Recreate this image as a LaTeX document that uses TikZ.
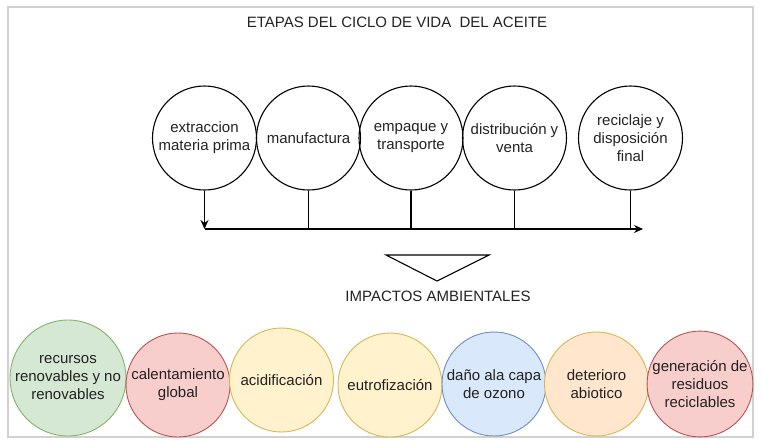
\documentclass[tikz,border=0pt]{standalone}
\usepackage{fontspec}
\setmainfont{Liberation Sans}
\usetikzlibrary{arrows.meta}
\definecolor{txt}{HTML}{222222}
\definecolor{gfill}{HTML}{D5E8D4}\definecolor{gline}{HTML}{82B366}
\definecolor{rfill}{HTML}{F8CECC}\definecolor{rline}{HTML}{B85450}
\definecolor{yfill}{HTML}{FFF2CC}\definecolor{yline}{HTML}{D6B656}
\definecolor{bfill}{HTML}{DAE8FC}\definecolor{bline}{HTML}{6C8EBF}
\definecolor{ofill}{HTML}{FFE6CC}\definecolor{oline}{HTML}{D6B656}
\tikzset{
  lbl/.style={font=\fontsize{15}{18}\selectfont, text=txt, align=center},
  stage/.style={lbl, circle, draw=black, line width=1.1pt, minimum size=104pt, inner sep=0pt},
  impact/.style={lbl, circle, line width=0.9pt, minimum size=104pt, inner sep=0pt},
  conn/.style={draw=black, line width=1.1pt},
  arr/.style={conn, -{Stealth[length=9pt,width=8pt]}}
}
\begin{document}
\begin{tikzpicture}[x=1pt,y=-1pt]
\useasboundingbox (0,0) rectangle (762,440);
\draw[draw=black!18, line width=1.2pt] (8,7) rectangle (753,437);
\node[lbl] (title) at (397,22) {ETAPAS DEL CICLO DE VIDA\ \ DEL ACEITE};

\node[stage] (t1) at (204.5,138) {extraccion\\materia prima};
\node[stage] (t2) at (308.5,138) {manufactura};
\node[stage] (t3) at (411,138) {empaque y\\transporte};
\node[stage] (t4) at (514.5,138) {distribución y\\venta};
\node[stage] (t5) at (630.5,138) {reciclaje y\\disposición\\final};

\coordinate (L0) at (204.5,229);
\coordinate (Lend) at (643,229);
\draw[arr] (t1.south) -- (L0);
\draw[arr] (L0) -- (Lend);
\draw[conn] (t2.south) -- (t2.south |- L0);
\draw[conn] (t3.south) -- (t3.south |- L0);
\draw[conn] (t4.south) -- (t4.south |- L0);
\draw[conn] (t5.south) -- (t5.south |- L0);

\draw[line width=1.1pt] (386,255) -- (489,255) -- (437,281) -- cycle;
\node[lbl] (imp) at (438,296) {IMPACTOS AMBIENTALES};

\node[impact, fill=gfill, draw=gline, minimum size=116pt] (i1) at (68,378) {recursos\\renovables y no\\renovables};
\node[impact, fill=rfill, draw=rline] (i2) at (178,385) {calentamiento\\global};
\node[impact, fill=yfill, draw=yline] (i3) at (281.5,380) {acidificación};
\node[impact, fill=yfill, draw=yline] (i4) at (390,385) {eutrofización};
\node[impact, fill=bfill, draw=bline] (i5) at (494,384) {daño ala capa\\de ozono};
\node[impact, fill=ofill, draw=oline] (i6) at (596.5,384) {deterioro\\abiotico};
\node[impact, fill=rfill, draw=rline] (i7) at (700,384) {generación de\\residuos\\reciclables};
\end{tikzpicture}
\end{document}
